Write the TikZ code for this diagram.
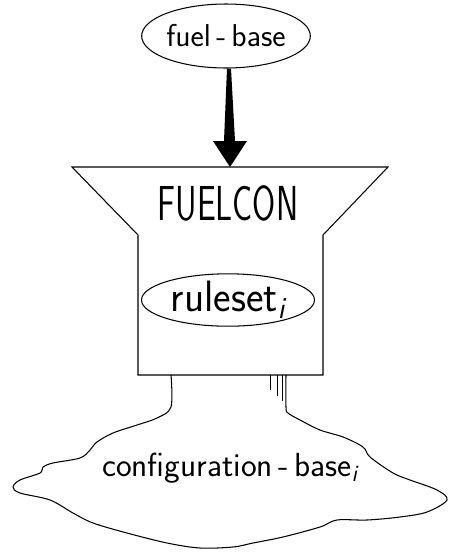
\documentclass[tikz,border=0pt]{standalone}
\usepackage{graphicx}
\usetikzlibrary{shapes.geometric,calc}

\begin{document}
\begin{tikzpicture}[x=0.02cm,y=-0.02cm,line width=0.6pt,
	base/.style={draw,ellipse,inner sep=0pt,font=\sffamily}]
	\useasboundingbox (0,0) rectangle (450,552);

	% fuel-base on top
	\node[base,minimum width=3.04cm,minimum height=1.28cm,
		font=\sffamily\fontsize{18}{20}\selectfont] (fuel) at (226,36) {fuel\,-\,base};

	\coordinate (TL) at (72,167);
	\coordinate (TR) at (388,167);
	\coordinate (NL) at (138,235);
	\coordinate (NR) at (323,235);
	\coordinate (BL) at (138,375);
	\coordinate (BR) at (323,375);
	\coordinate (tip) at ($(TL)!0.5!(TR)$);

	% \draw funnel and box
	\draw (TL) -- (TR) -- (NR) -- (BR) -- (BL) -- (NL) -- cycle;

	% \draw thick arrow
	\fill ($(fuel.south)+(1,0)$) -- ($(fuel.south)+(5,0)$) -- ($(tip)+(5,-26)$)
		-- ($(tip)+(17,-26)$) -- (tip) -- ($(tip)+(-17,-26)$) -- ($(tip)+(-6,-26)$) -- cycle;

	\node[font=\sffamily\fontsize{28}{30}\selectfont] (fuelcon) at (228,203)
		{\scalebox{0.68}[1]{FUELCON}};
	\node[base,minimum width=3.46cm,minimum height=0.9cm,
		font=\sffamily\fontsize{25}{28}\selectfont] (rules) at (228,300)
		{\scalebox{0.95}[1]{ruleset\textsubscript{\itshape i}}};

	% \draw stems and cloud
	\draw plot[smooth,tension=0.55] coordinates {
		(171,375) (171,407) (157,418) (137,425) (113,433) (97,442) (90,450)
		(80,458) (53,463) (43,467) (40,473) (20,480) (13,487) (20,493)
		(50,500) (73,513) (93,523) (127,533) (167,543) (200,548) (233,547)
		(253,543) (283,537) (320,527) (337,520) (367,520) (400,517)
		(427,512) (447,500) (437,490) (410,480) (393,473) (370,457)
		(363,447) (343,437) (320,430) (300,420) (288,413) (286,407) (286,375)};

	% \draw drips
	\foreach \x/\l in {270/15,277/21,282/26}
		\draw[line width=0.4pt] ($(BR)+(\x-323,0)$) -- ++(0,\l);

	\node[font=\sffamily\fontsize{19}{22}\selectfont] (config) at (230,468)
		{configuration\,-\,base\textsubscript{\itshape i}};
\end{tikzpicture}
\end{document}
